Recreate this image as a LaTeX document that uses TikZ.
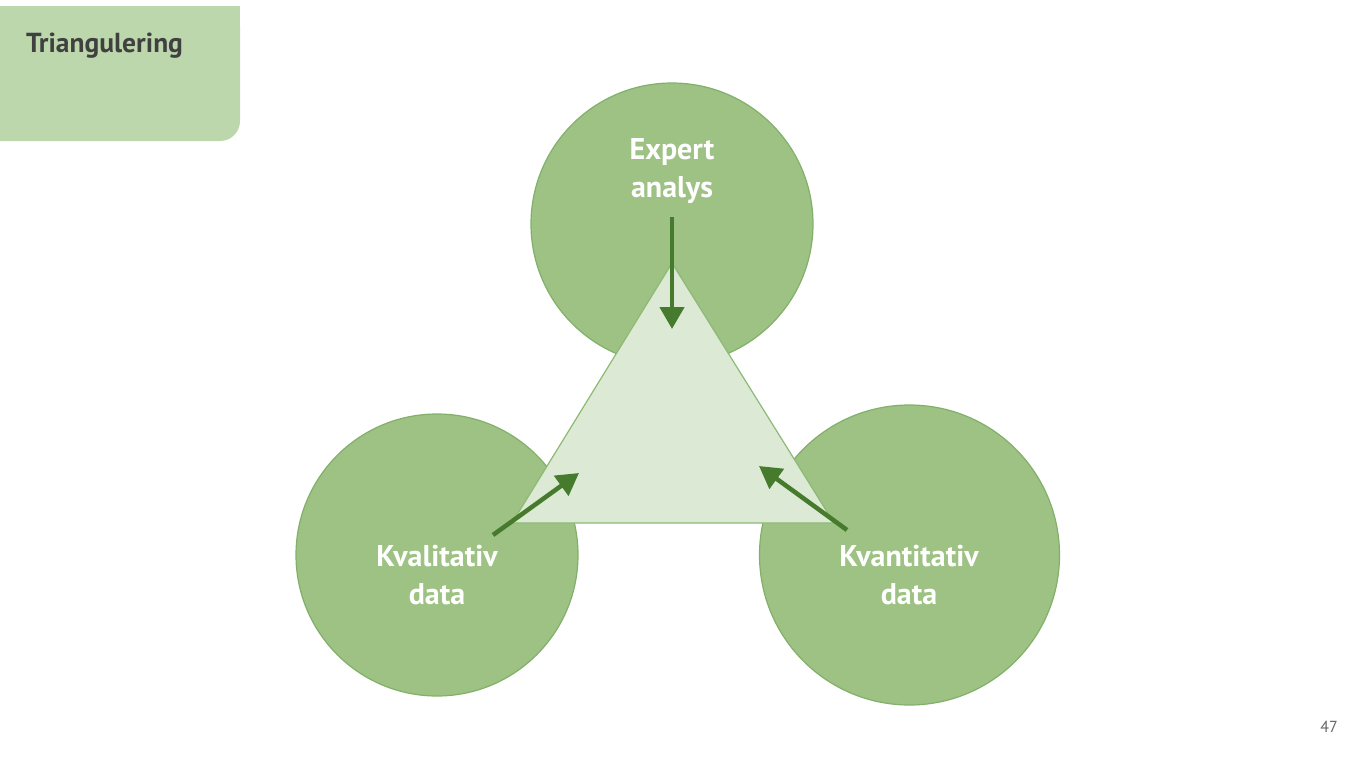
\documentclass[tikz,border=0pt]{standalone}
\usepackage{fontspec}
\setmainfont{PT Sans}
\usetikzlibrary{arrows.meta}
\definecolor{circlegreen}{HTML}{9DC284}
\definecolor{circleedge}{HTML}{82B06A}
\definecolor{trianglegreen}{HTML}{DCE9D5}
\definecolor{triangleedge}{HTML}{8CBA73}
\definecolor{arrowgreen}{HTML}{467A2C}
\definecolor{titlegreen}{HTML}{BBD7AB}
\definecolor{titlegray}{HTML}{404040}
\begin{document}
\begin{tikzpicture}
[x=1pt, y=-1pt, every node/.style={inner sep=0pt},
 bubble/.style={circle, fill=circlegreen, draw=circleedge, line width=1.2pt},
 bubbletext/.style={align=center, text=white, font=\bfseries\fontsize{30}{38}\selectfont},
 push/.style={line width=4.5pt, color=arrowgreen, -{Triangle[length=22pt, width=24pt]}}]
\useasboundingbox (0,0) rectangle (1370,766);
% title tab
\fill [titlegreen, rounded corners=20pt] (-30,6) rectangle (240,141);
\fill [titlegreen] (-30,6) rectangle (240,60);
\node (title) [anchor=base west, text=titlegray, font=\bfseries\fontsize{27.5}{32}\selectfont] at (26, 52) {Triangulering};
% circles
\node (expert) [bubble, minimum size=282pt] at (672, 224) {};
\node (kval) [bubble, minimum size=282pt] at (437, 555) {};
\node (kvant) [bubble, minimum size=300pt] at (909.5, 555) {};
% triangle
\coordinate (apex) at (672, 263);
\coordinate (baseL) at (512, 523);
\coordinate (baseR) at (834, 523);
\draw [fill=trianglegreen, draw=triangleedge, line width=1.2pt, line join=round] (apex) -- (baseL) -- (baseR) -- cycle;
% arrows
\coordinate (expertStart) at (672, 217);
\coordinate (expertEnd) at (672, 329);
\coordinate (kvalStart) at (493, 535);
\coordinate (kvalEnd) at (579, 473);
\coordinate (kvantStart) at (847, 530);
\coordinate (kvantEnd) at (759, 466);
\draw [push] (expertStart) -- (expertEnd);
\draw [push] (kvalStart) -- (kvalEnd);
\draw [push] (kvantStart) -- (kvantEnd);
% labels
\node (expertLabel) [bubbletext] at (672, 171) {Expert\\analys};
\node (kvalLabel) [bubbletext] at (437, 575) {Kvalitativ\\data};
\node (kvantLabel) [bubbletext] at (909, 575) {Kvantitativ\\data};
\node (page) [text=titlegray!80, font=\fontsize{16}{19}\selectfont] at (1329, 727) {47};
\end{tikzpicture}
\end{document}
